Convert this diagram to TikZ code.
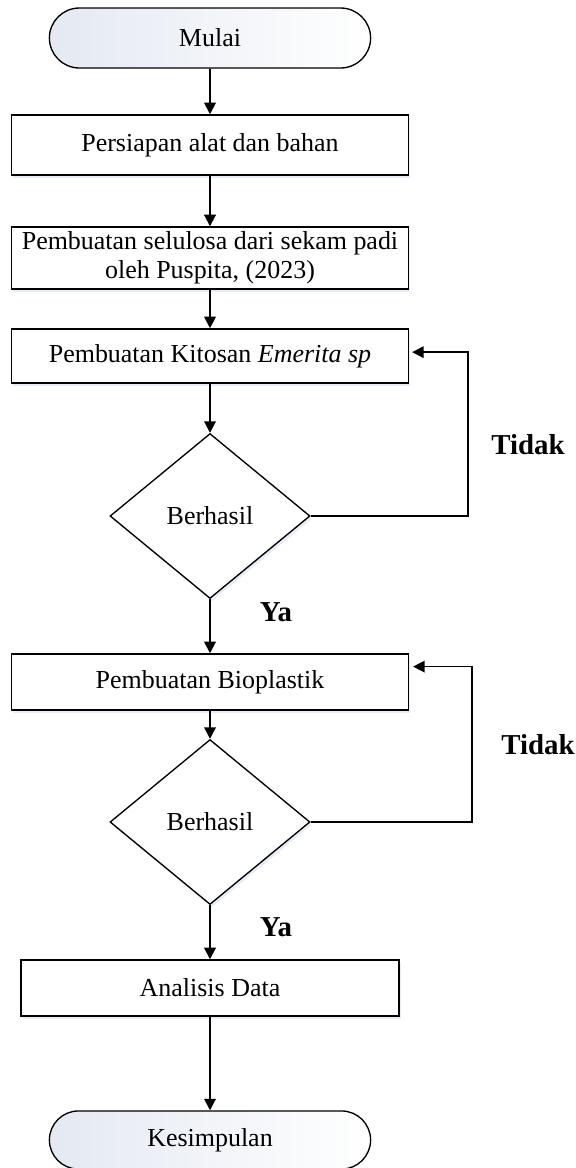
\documentclass[tikz,border=0pt]{standalone}
\usepackage{fontspec}
\setmainfont{Liberation Serif}
\usetikzlibrary{shapes.geometric,shapes.misc,arrows.meta,shadows}

\definecolor{termfill}{RGB}{228,233,242}
\definecolor{bayang}{RGB}{175,195,225}

\tikzset{
  garis/.style={line width=1pt,-{Triangle[length=6pt,width=6pt]}},
  teks/.style={font=\fontsize{13.5}{15}\selectfont},
  terminal/.style={teks,rounded rectangle,draw,line width=0.7pt,
    left color=termfill,right color=white,
    minimum width=173.7pt,minimum height=31.2pt},
  proses/.style={teks,rectangle,draw,line width=0.8pt,fill=white,
    minimum width=206.4pt,align=center,
    drop shadow={shadow xshift=1pt,shadow yshift=-1.5pt,fill=bayang,opacity=0.3}},
  keputusan/.style={teks,diamond,draw,line width=0.7pt,fill=white,
    minimum width=104pt,minimum height=85.8pt,inner sep=0pt,
    drop shadow={shadow xshift=1pt,shadow yshift=-1.5pt,fill=bayang,opacity=0.3}},
  jawab/.style={font=\fontsize{15}{18}\selectfont\bfseries}
}

\begin{document}
\begin{tikzpicture}[x=0.52pt,y=-0.52pt]
        \useasboundingbox (0,0) rectangle (576,1168);

        % Langkah utama
        \node[terminal] (mulai) at (210,38) {Mulai};
        \node[proses,minimum height=31.2pt] (persiapan) at (210,145) {Persiapan alat dan bahan};
        \node[proses,minimum height=32.2pt,inner sep=1pt] (selulosa) at (210,258)
            {Pembuatan selulosa dari sekam padi\\oleh Puspita, (2023)};
        \node[proses,minimum height=28.1pt] (kitosan) at (210,356)
            {Pembuatan Kitosan \textit{Emerita sp}};
        \node[keputusan] (cek1) at (210,516) {Berhasil};
        \node[proses,minimum height=29.1pt] (bioplastik) at (210,682) {Pembuatan Bioplastik};
        \node[keputusan] (cek2) at (210,822) {Berhasil};
        \node[proses,minimum width=196.6pt,minimum height=29.1pt] (analisis) at (210,988) {Analisis Data};
        \node[terminal,minimum height=30.2pt] (kesimpulan) at (210,1140) {Kesimpulan};

        % Alur
        \draw[garis] (mulai) -- (persiapan);
        \draw[garis] (persiapan) -- (selulosa);
        \draw[garis] (selulosa) -- (kitosan);
        \draw[garis] (kitosan) -- (cek1);
        \draw[garis] (cek1) -- (bioplastik);
        \draw[garis] (bioplastik) -- (cek2);
        \draw[garis] (cek2) -- (analisis);
        \draw[garis] (analisis) -- (kesimpulan);

        % Kembali jika gagal
        \coordinate (balik1) at (468,0);
        \coordinate (balik2) at (472,0);
        \draw[garis,line width=0.7pt,shorten >=1.5pt] (cek1.east) -- (cek1.east -| balik1) |- ([yshift=2pt]kitosan.east);
        \draw[garis,line width=0.7pt,shorten >=2pt] (cek2.east) -- (cek2.east -| balik2) |- ([yshift=8pt]bioplastik.east);

        % Keterangan
        \node[jawab] (tidak1) at (528,445) {Tidak};
        \node[jawab] (ya1) at (276,612) {Ya};
        \node[jawab] (tidak2) at (538,745) {Tidak};
        \node[jawab] (ya2) at (276,927) {Ya};
    \end{tikzpicture}
\end{document}
